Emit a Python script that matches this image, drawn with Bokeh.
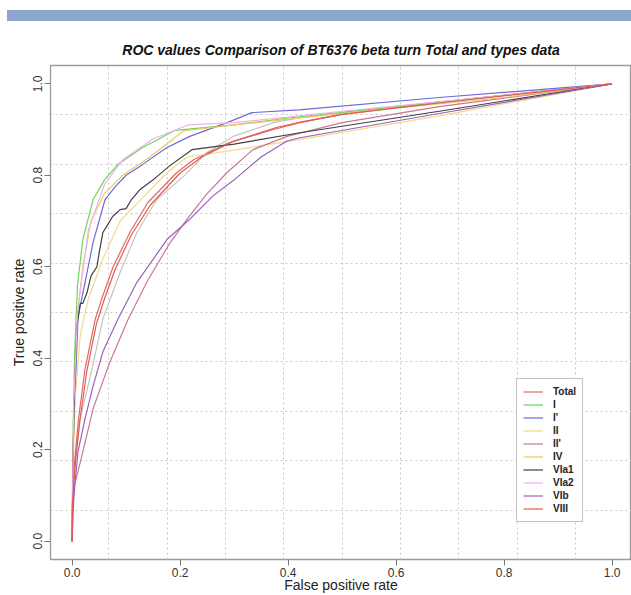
from bokeh.plotting import figure
from bokeh.models import FixedTicker, Legend, LegendItem, Div
from bokeh.layouts import column
from bokeh.embed import file_html
from bokeh.resources import INLINE

# ---- data ----
series_names = ["Total", "I", "I'", "II", "II'", "IV", "VIa1", "VIa2", "VIb", "VIII"]

total_fpr = [0, 0.001, 0.005, 0.012, 0.024, 0.043, 0.055, 0.076, 0.107, 0.14, 0.194, 0.225, 0.29, 0.373, 0.422, 0.5, 0.68, 1.0]
total_tpr = [0, 0.1, 0.18, 0.268, 0.377, 0.486, 0.53, 0.60, 0.675, 0.74, 0.806, 0.834, 0.871, 0.90, 0.915, 0.933, 0.96, 1.0]

i_fpr = [0, 0.001, 0.002, 0.005, 0.01, 0.02, 0.039, 0.06, 0.085, 0.13, 0.19, 0.3, 0.42, 0.6, 0.8, 1.0]
i_tpr = [0, 0.15, 0.25, 0.42, 0.56, 0.66, 0.747, 0.79, 0.824, 0.86, 0.898, 0.91, 0.928, 0.95, 0.975, 1.0]

ip_fpr = [0, 0.001, 0.003, 0.011, 0.024, 0.039, 0.061, 0.08, 0.10, 0.126, 0.175, 0.218, 0.287, 0.333, 0.42, 0.68, 1.0]
ip_tpr = [0, 0.12, 0.25, 0.49, 0.566, 0.654, 0.747, 0.775, 0.80, 0.82, 0.86, 0.885, 0.915, 0.937, 0.943, 0.97, 1.0]

ii_fpr = [0, 0.001, 0.005, 0.015, 0.03, 0.057, 0.089, 0.13, 0.176, 0.213, 0.3, 0.42, 0.68, 1.0]
ii_tpr = [0, 0.12, 0.3, 0.45, 0.53, 0.617, 0.70, 0.75, 0.806, 0.84, 0.855, 0.878, 0.93, 1.0]

iip_fpr = [0, 0.002, 0.009, 0.02, 0.039, 0.07, 0.104, 0.14, 0.18, 0.213, 0.25, 0.287, 0.335, 0.398, 0.5, 0.68, 1.0]
iip_tpr = [0, 0.109, 0.144, 0.196, 0.29, 0.392, 0.486, 0.57, 0.65, 0.704, 0.76, 0.806, 0.856, 0.885, 0.915, 0.95, 1.0]

iv_fpr = [0, 0.001, 0.003, 0.01, 0.02, 0.035, 0.06, 0.094, 0.144, 0.206, 0.3, 0.5, 0.8, 1.0]
iv_tpr = [0, 0.15, 0.3, 0.5, 0.6, 0.7, 0.76, 0.80, 0.84, 0.897, 0.91, 0.935, 0.97, 1.0]

via1_fpr = [0, 0.002, 0.005, 0.009, 0.015, 0.02, 0.028, 0.035, 0.046, 0.05, 0.057, 0.065, 0.075, 0.089, 0.1, 0.11, 0.126, 0.15, 0.18, 0.222, 0.3, 0.422, 0.68, 1.0]
via1_tpr = [0, 0.2, 0.35, 0.47, 0.52, 0.52, 0.545, 0.58, 0.60, 0.63, 0.675, 0.69, 0.71, 0.725, 0.727, 0.747, 0.769, 0.79, 0.82, 0.856, 0.868, 0.893, 0.94, 1.0]

via2_fpr = [0, 0.001, 0.003, 0.01, 0.03, 0.06, 0.094, 0.15, 0.215, 0.3, 0.5, 0.8, 1.0]
via2_tpr = [0, 0.1, 0.3, 0.5, 0.68, 0.78, 0.834, 0.88, 0.91, 0.915, 0.94, 0.975, 1.0]

vib_fpr = [0, 0.002, 0.005, 0.011, 0.024, 0.039, 0.057, 0.085, 0.12, 0.176, 0.218, 0.261, 0.3, 0.35, 0.398, 0.422, 0.68, 1.0]
vib_tpr = [0, 0.07, 0.122, 0.196, 0.268, 0.34, 0.414, 0.486, 0.566, 0.66, 0.704, 0.755, 0.79, 0.84, 0.875, 0.882, 0.935, 1.0]

viii_fpr = [0, 0.001, 0.006, 0.014, 0.027, 0.045, 0.06, 0.08, 0.11, 0.145, 0.2, 0.24, 0.3, 0.38, 0.43, 0.5, 0.68, 1.0]
viii_tpr = [0, 0.09, 0.17, 0.26, 0.37, 0.475, 0.53, 0.595, 0.67, 0.735, 0.805, 0.84, 0.875, 0.905, 0.918, 0.933, 0.958, 1.0]

# unlabelled light grey curve visible in the reference
grey_fpr = [0, 0.001, 0.003, 0.015, 0.037, 0.057, 0.089, 0.12, 0.157, 0.206, 0.25, 0.298, 0.373, 0.422, 0.6, 1.0]
grey_tpr = [0, 0.08, 0.15, 0.268, 0.377, 0.486, 0.588, 0.675, 0.747, 0.797, 0.85, 0.885, 0.915, 0.926, 0.95, 1.0]

tick_values = [0.0, 0.2, 0.4, 0.6, 0.8, 1.0]
tick_labels = ["0.0", "0.2", "0.4", "0.6", "0.8", "1.0"]

colors = ["#e06868", "#6ad85a", "#6a6ad8", "#f3d88e", "#c77898",
          "#f0c860", "#404040", "#f2b0ee", "#9a62b8", "#e25a50"]

xs = [total_fpr, i_fpr, ip_fpr, ii_fpr, iip_fpr, iv_fpr, via1_fpr, via2_fpr, vib_fpr, viii_fpr]
ys = [total_tpr, i_tpr, ip_tpr, ii_tpr, iip_tpr, iv_tpr, via1_tpr, via2_tpr, vib_tpr, viii_tpr]

FONT = "Liberation Sans"

# plot box: R style, 4% padding on each side
x0, y0 = -0.04, -0.04
p = figure(width=631, height=574, output_backend="svg", toolbar_location=None,
           x_range=(x0, 1.036), y_range=(y0, 1.04),
           min_border_left=50, min_border_right=0, min_border_top=44, min_border_bottom=34,
           background_fill_color="white", border_fill_color="white")

p.outline_line_color = "#9a9a9a"
p.outline_line_width = 1.3

p.title.text = "ROC values Comparison of BT6376 beta turn Total and types data"
p.title.text_font = FONT
p.title.text_font_style = "bold italic"
p.title.text_font_size = "14px"
p.title.align = "center"
p.title.text_color = "#111111"
p.title.standoff = 15

# grid: 10 equal cells across the padded range (R grid())
grid_pos = [x0 + 0.108 * k for k in range(1, 10)]
for g, ticks in ((p.xgrid, grid_pos), (p.ygrid, grid_pos)):
    g.ticker = FixedTicker(ticks=ticks)
    g.grid_line_color = "#c8c8c8"
    g.grid_line_dash = "2 3"
    g.grid_line_width = 1

for ax in (p.xaxis, p.yaxis):
    ax.ticker = FixedTicker(ticks=tick_values)
    ax.major_label_overrides = {v: l for v, l in zip(tick_values, tick_labels)}
    ax.axis_line_color = None
    ax.major_tick_line_color = "#777777"
    ax.major_tick_out = 6
    ax.major_tick_in = 0
    ax.minor_tick_line_color = None
    ax.major_label_text_font = FONT
    ax.major_label_text_font_size = "12px"
    ax.major_label_text_color = "#333333"
    ax.major_label_standoff = 2
    ax.axis_label_text_font = FONT
    ax.axis_label_text_font_size = "14px"
    ax.axis_label_text_font_style = "normal"
    ax.axis_label_text_color = "#222222"

p.yaxis.major_label_orientation = "vertical"
p.yaxis.axis_label = "True positive rate"
p.yaxis.axis_label_standoff = 4
p.xaxis.axis_label = "False positive rate"
p.xaxis.axis_label_standoff = -3

p.line(grey_fpr, grey_tpr, line_color="#c4c4c4", line_width=1.2)

renderers = []
for x, y, c in zip(xs, ys, colors):
    r = p.line(x, y, line_color=c, line_width=1.2)
    renderers.append(r)

legend = Legend(items=[LegendItem(label=n, renderers=[r]) for n, r in zip(series_names, renderers)],
                location=(466, 37), padding=6, margin=0, spacing=0,
                glyph_width=20, glyph_height=13, label_height=13, label_standoff=10,
                label_text_font=FONT, label_text_font_style="bold", label_text_font_size="10px",
                label_text_color="#222222",
                border_line_color="#888888", border_line_width=1,
                background_fill_color="white", background_fill_alpha=1.0)
p.add_layout(legend)

bar = Div(text="", width=624, height=11, margin=(10, 0, 0, 7),
          styles={"background-color": "#8ea6ce"})

layout = column(bar, p, spacing=0)

open("out.html", "w").write(file_html(layout, INLINE))
